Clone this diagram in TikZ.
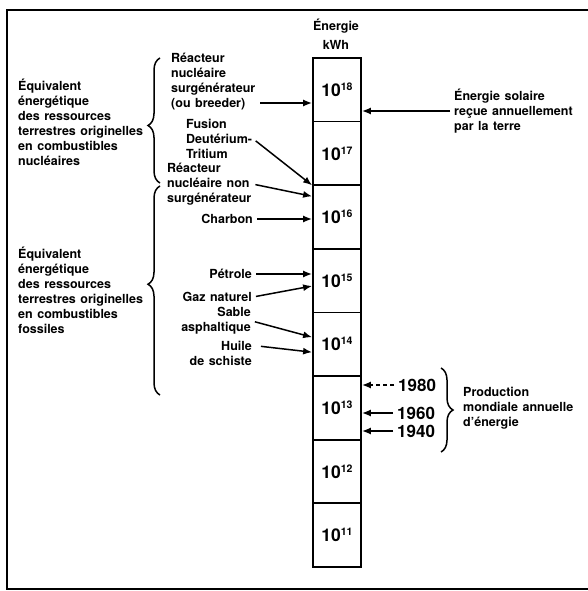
\documentclass[tikz,border=0pt]{standalone}
\usepackage{fontspec}
\setmainfont{TeX Gyre Heros}[WordSpace=1.3]
\usetikzlibrary{arrows.meta,decorations.pathreplacing}
\newcommand{\pw}[1]{{\fontsize{17.5}{18}\selectfont 10}\raisebox{6pt}{\fontsize{10.5}{11}\selectfont #1}}
\begin{document}
\begin{tikzpicture}[x=1pt,y=-1pt,
  txt/.style={font=\fontsize{12.5}{15}\selectfont\bfseries,inner sep=1pt},
  year/.style={font=\fontsize{17}{17}\selectfont\bfseries,inner sep=1pt},
  cell/.style={draw,line width=1.8pt,minimum width=48pt,minimum height=63.6pt,inner sep=0pt,font=\bfseries},
  arr/.style={-{Latex[length=9pt,width=7pt]},line width=1.5pt,shorten <=3pt},
  brc/.style={decorate,decoration={brace,amplitude=12pt},line width=1.5pt}]
\useasboundingbox (0,0) rectangle (588,591);
% frame
\draw[line width=2pt] (588,10) -- (7,10) -- (7,589) -- (588,589);
% scale
\node[txt] (E) at (336,26) {Énergie};
\node[txt] (K) at (336,45) {kWh};
\node[cell] (C18) at (337,89.8) {\pw{18}};
\node[cell] (C17) at (337,153.4) {\pw{17}};
\node[cell] (C16) at (337,217.0) {\pw{16}};
\node[cell] (C15) at (337,280.6) {\pw{15}};
\node[cell] (C14) at (337,344.2) {\pw{14}};
\node[cell] (C13) at (337,407.8) {\pw{13}};
\node[cell] (C12) at (337,471.4) {\pw{12}};
\node[cell] (C11) at (337,535.0) {\pw{11}};
% left groups
\node[txt,anchor=west,align=left] (NUC) at (17,122) {Équivalent\\énergétique\\des ressources\\terrestres originelles\\en combustibles\\nucléaires};
\node[txt,anchor=west,align=left] (FOS) at (17,290) {Équivalent\\énergétique\\des ressources\\terrestres originelles\\en combustibles\\fossiles};
\coordinate (NUCb) at (160,183);
\coordinate (NUCt) at (160,58);
\coordinate (FOSb) at (160,395);
\coordinate (FOSt) at (160,186);
\draw[brc,decoration={aspect=0.46}] (NUCb) -- (NUCt);
\draw[brc,decoration={aspect=0.53}] (FOSb) -- (FOSt);
% sources
\node[txt,anchor=west,align=left] (RS) at (170,82) {Réacteur\\nucléaire\\surgénérateur\\(ou breeder)};
\node[txt,anchor=west,align=left] (FUS) at (185,139) {Fusion\\Deutérium-\\Tritium};
\node[txt,anchor=west,align=left] (RNS) at (166,184) {Réacteur\\nucléaire non\\surgénérateur};
\node[txt,anchor=east] (CH) at (254,219) {Charbon};
\node[txt,anchor=east] (PE) at (253,274) {Pétrole};
\node[txt,anchor=east] (GN) at (253,297) {Gaz naturel};
\node[txt,anchor=east,align=right] (SA) at (252,321) {Sable\\asphaltique};
\node[txt,anchor=east,align=right] (HU) at (253,353) {Huile\\de schiste};
\coordinate (RSo) at (257,103);
\coordinate (HUo) at (258,346);
\draw[arr] (RSo) -- (RSo -| C18.west);
\draw[arr] (FUS.east) -- ([yshift=-1pt]C16.north west);
\draw[arr] (RNS.east) -- ([yshift=-12pt]C16.north west);
\draw[arr] (CH.east) -- (CH.east -| C16.west);
\draw[arr] (PE.east) -- (PE.east -| C15.west);
\draw[arr] (GN.east) -- ([yshift=-5.4pt]C15.west);
\draw[arr] (SA.east) -- ([yshift=7pt]C14.west);
\draw[arr] (HUo) -- ([yshift=-8pt]C14.west);
% right side
\node[txt,anchor=west,align=left] (SOL) at (453,111) {Énergie solaire\\reçue annuellement\\par la terre};
\draw[arr] (SOL.west) -- (SOL.west -| C18.east);
\node[year,anchor=west] (Y80) at (397,385) {1980};
\node[year,anchor=west] (Y60) at (396,413) {1960};
\node[year,anchor=west] (Y40) at (396,431) {1940};
\draw[arr,dash pattern=on 4pt off 3pt] (Y80.west) -- (Y80.west -| C13.east);
\draw[arr] (Y60.west) -- (Y60.west -| C13.east);
\draw[arr] (Y40.west) -- (Y40.west -| C13.east);
\coordinate (PRt) at (441,368);
\coordinate (PRb) at (441,452);
\draw[brc] (PRt) -- (PRb);
\node[txt,anchor=west,align=left] (PR) at (462,408) {Production\\mondiale annuelle\\d'énergie};
\end{tikzpicture}
\end{document}
